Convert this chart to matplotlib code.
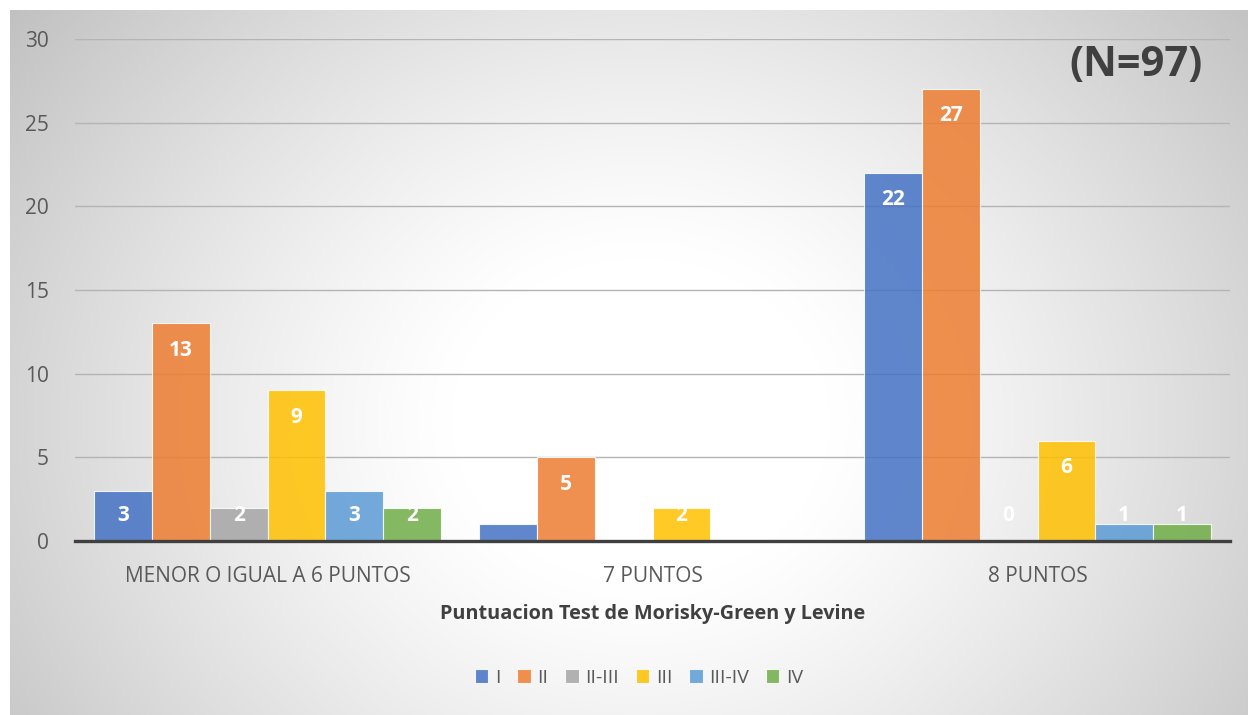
import matplotlib

matplotlib.use("Agg")
import matplotlib.pyplot as plt  # type: ignore
import numpy as np  # type: ignore

plt.rcParams["font.family"] = ["Open Sans", "DejaVu Sans"]

# Datos del grafico
categorias = ["MENOR O IGUAL A 6 PUNTOS", "7 PUNTOS", "8 PUNTOS"]
series = ["I", "II", "II-III", "III", "III-IV", "IV"]
val_I = [3, 1, 22]
val_II = [13, 5, 27]
val_II_III = [2, 0, 0]
val_III = [9, 2, 6]
val_III_IV = [3, 0, 1]
val_IV = [2, 0, 1]
valores = [val_I, val_II, val_II_III, val_III, val_III_IV, val_IV]

colores = ["#4472C4", "#ED7D31", "#A5A5A5", "#FFC000", "#5B9BD5", "#70AD47"]
GRIS_TEXTO = "#595959"

W, H = 1248, 715
fig = plt.figure(figsize=(W / 100, H / 100), dpi=100)

# Fondo con degradado radial (blanco en el centro, gris en los bordes)
fondo = fig.add_axes([0, 0, 1, 1], zorder=-10)
yy, xx = np.mgrid[0:H, 0:W]
d = np.sqrt(((xx - 640) / 700.0) ** 2 + ((yy - 420) / 600.0) ** 2)
gris = 1.0 - 0.24 * np.clip((d - 0.27) / 0.85, 0, 1.1) ** 1.2
img = np.dstack([gris, gris, gris])
img[:10, :, :] = 1.0
img[:, :10, :] = 1.0
fondo.imshow(img, aspect="auto", extent=(0, 1, 0, 1), origin="upper",
             interpolation="bilinear")
fondo.set_xlim(0, 1)
fondo.set_ylim(0, 1)
fondo.axis("off")

ax = fig.add_axes([75 / W, 1 - 541 / H, (1230 - 75) / W, (541 - 39) / H])
ax.set_facecolor("none")

x = np.arange(len(categorias))
ancho = 0.15
for i, (nombre, vals, col) in enumerate(zip(series, valores, colores)):
    pos = x + (i - 2.5) * ancho
    ax.bar(pos, vals, width=ancho, color=col, alpha=0.85, edgecolor=(1, 1, 1, 0.5),
           linewidth=0.8, label=nombre, zorder=3)
    for px, v in zip(pos, vals):
        ax.text(px, max(v - 1.6, 1.5), str(v), ha="center", va="center",
                color="white", fontsize=15, fontweight="bold", zorder=4)

ax.set_xlim(-0.5, 2.5)
ax.set_ylim(0, 30)
ax.set_yticks(range(0, 31, 5))
ax.yaxis.grid(True, color="#b4b4b4", linewidth=1.0, zorder=1)
ax.set_axisbelow(True)
for lado in ["top", "right", "left"]:
    ax.spines[lado].set_visible(False)
ax.spines["bottom"].set_color("#404040")
ax.spines["bottom"].set_linewidth(2.4)
ax.spines["bottom"].set_zorder(5)

ax.set_xticks(x)
ax.set_xticklabels(categorias)
ax.tick_params(axis="both", length=0, labelsize=15, labelcolor=GRIS_TEXTO)
ax.tick_params(axis="y", pad=19)
ax.tick_params(axis="x", pad=18)

ax.set_xlabel("Puntuacion Test de Morisky-Green y Levine", fontsize=14.3,
              fontweight="bold", color="#404040", labelpad=12)

fig.text(1136 / W, 1 - 66 / H, "(N=97)", ha="center", va="center",
         fontsize=30, fontweight="bold", color="#404040")

fig.legend(loc="center", bbox_to_anchor=(0.512, 1 - 678 / H), ncol=6, frameon=False,
           fontsize=14, handlelength=0.7, handleheight=0.7, handletextpad=0.35,
           columnspacing=0.85, labelcolor=GRIS_TEXTO)

fig.savefig("out.png", dpi=100)
